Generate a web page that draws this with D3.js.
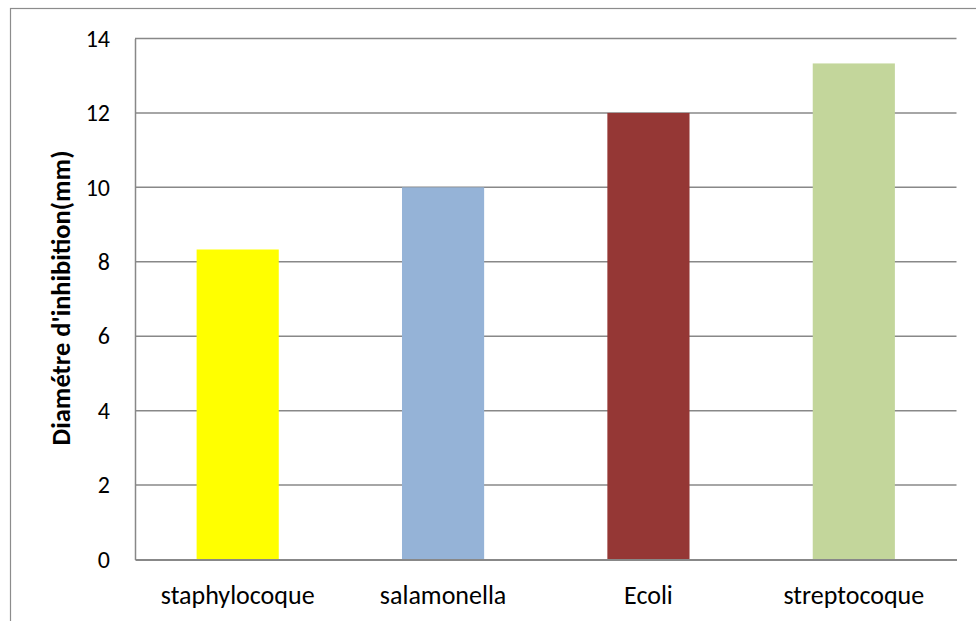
<!DOCTYPE html>
<html>
<head>
<meta charset="utf-8">
<script src="https://cdn.jsdelivr.net/npm/d3@7"></script>
<style>
  html, body { margin: 0; padding: 0; background: #fff; }
  svg { display: block; font-family: Carlito, Lato, "Open Sans", sans-serif; }
</style>
</head>
<body>
<svg id="chart" width="976" height="621"></svg>
<script>
// Inhibition zone diameter per bacterial strain
const categories = ["staphylocoque", "salamonella", "Ecoli", "streptocoque"];
const values = [8.33, 10, 12, 13.33];
const colors = ["#FFFF00", "#95B3D7", "#953735", "#C3D69B"];
const yTicks = [0, 2, 4, 6, 8, 10, 12, 14];
const yTitle = "Diamétre d'inhibition(mm)";

const svg = d3.select("#chart");
const W = 976, H = 621;
const plot = { left: 135, right: 956.5, top: 38.5, bottom: 559.5 };

// outer frame (continues past the right and bottom edges)
svg.append("rect")
  .attr("x", 10.5).attr("y", 8.5)
  .attr("width", W + 20).attr("height", H + 20)
  .attr("fill", "#fff").attr("stroke", "#8c8c8c").attr("stroke-width", 1.2);

const x = d3.scaleBand().domain(categories)
  .range([plot.left, plot.right]).paddingInner(0.6).paddingOuter(0.3);
const y = d3.scaleLinear().domain([0, 14]).range([plot.bottom, plot.top]);

// horizontal gridlines
svg.append("g").selectAll("line").data(yTicks.filter(t => t > 0)).join("line")
  .attr("x1", plot.left).attr("x2", plot.right)
  .attr("y1", d => y(d)).attr("y2", d => y(d))
  .attr("stroke", "#888").attr("stroke-width", 1.5);

// bars
svg.append("g").selectAll("rect").data(categories).join("rect")
  .attr("x", d => x(d))
  .attr("width", x.bandwidth())
  .attr("y", (d, i) => y(values[i]))
  .attr("height", (d, i) => y(0) - y(values[i]))
  .attr("fill", (d, i) => colors[i]);

// y axis
const yAxis = d3.axisLeft(y).tickValues(yTicks).tickSize(0).tickPadding(25);
const gy = svg.append("g").attr("transform", `translate(${plot.left},0)`).call(yAxis);
gy.select(".domain").attr("stroke", "#888").attr("stroke-width", 1.5);
gy.selectAll("text").attr("font-size", 24).attr("fill", "#000")
  .attr("font-family", "Carlito, Lato, sans-serif");

// x axis
const xAxis = d3.axisBottom(x).tickSize(0).tickPadding(26);
const gx = svg.append("g").attr("transform", `translate(0,${plot.bottom})`).call(xAxis);
gx.select(".domain").attr("stroke", "#888").attr("stroke-width", 1.8);
gx.selectAll("text").attr("font-size", 26).attr("fill", "#000")
  .attr("font-family", "Carlito, Lato, sans-serif");

// y axis title
svg.append("text")
  .attr("transform", `translate(70,${(plot.top + plot.bottom) / 2 - 1}) rotate(-90)`)
  .attr("text-anchor", "middle")
  .attr("font-size", 26.5).attr("font-weight", "bold")
  .text(yTitle);
</script>
</body>
</html>
